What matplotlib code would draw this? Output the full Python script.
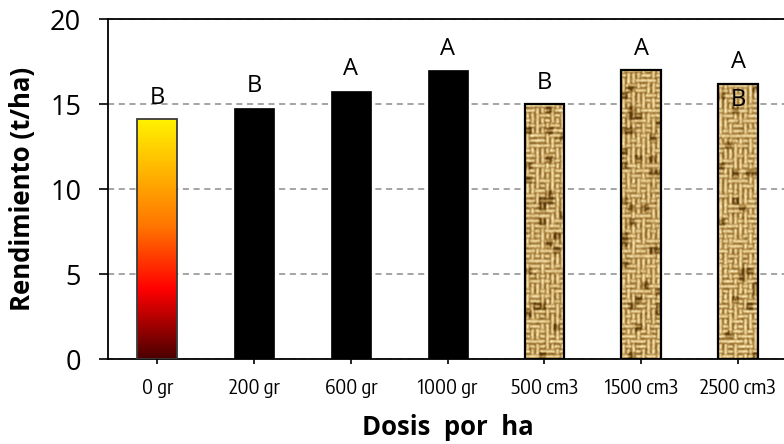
import numpy as np
import matplotlib
matplotlib.use('Agg')
import matplotlib.pyplot as plt
from matplotlib import font_manager
from matplotlib.colors import LinearSegmentedColormap

# data
dosis = ['0 gr', '200 gr', '600 gr', '1000 gr', '500 cm3', '1500 cm3', '2500 cm3']
rendimiento = [14.1, 14.8, 15.8, 17.0, 15.0, 17.0, 16.2]
letras = ['B', 'B', 'A', 'A', 'B', 'A', 'AB']
relleno = ['gradiente', 'negro', 'negro', 'negro', 'yute', 'yute', 'yute']

fuente = ['Open Sans', 'DejaVu Sans']

# narrow font for the category labels, if one is around
angosta = ['Liberation Sans', 'DejaVu Sans']
estirada = 'normal'
for f in font_manager.fontManager.ttflist:
    n = f.name.lower()
    if ('narrow' in n or 'condensed' in n) and 'sans' in n and f.weight in (400, 'normal', 'regular'):
        angosta = [f.name] + angosta
        break
else:
    for f in font_manager.fontManager.ttflist:
        if f.stretch in ('condensed', 'semi-condensed') and f.style == 'normal':
            angosta = [f.name] + angosta
            estirada = f.stretch
            break
hay_angosta = angosta[0] != 'Liberation Sans'

grad_cmap = LinearSegmentedColormap.from_list(
    'fuego', [(0.0, '#4a0000'), (0.29, '#ff0000'), (0.55, '#ff7400'), (1.0, '#fff200')])
yute_cmap = LinearSegmentedColormap.from_list(
    'yute', [(0.0, '#5a3c10'), (0.35, '#a27c3c'), (0.65, '#d8b878'), (1.0, '#fff2c4')])


def textura_yute(h, w, seed):
    # woven look: small blocks of threads running either way
    rng = np.random.default_rng(seed)
    yy, xx = np.mgrid[0:h, 0:w]
    blk = 5
    orient = rng.integers(0, 2, size=(h // blk + 1, w // blk + 1))
    o = orient[yy // blk, xx // blk]
    fase = np.where(o == 1, yy % blk, xx % blk)
    perfil = np.array([0.2, 0.65, 0.95, 0.7, 0.3])
    v = perfil[fase] + rng.normal(0, 0.13, size=(h, w))
    manchas = rng.random((h // 7 + 1, w // 7 + 1)) < 0.12
    v = v - 0.35 * manchas[yy // 7, xx // 7]
    k = np.array([0.25, 0.5, 0.25])
    v = np.apply_along_axis(lambda r: np.convolve(r, k, mode='same'), 0, v)
    v = np.apply_along_axis(lambda r: np.convolve(r, k, mode='same'), 1, v)
    return np.clip(v, 0, 1)


fig = plt.figure(figsize=(7.84, 4.44), dpi=100)
ax = fig.add_axes([0.138, 0.191, 0.866, 0.766])

x = np.arange(len(dosis))
ancho = 0.41
ax.set_xlim(-0.506, len(dosis) - 1 + 0.506)
ax.set_ylim(0, 20)

for i, (v, r) in enumerate(zip(rendimiento, relleno)):
    x0, x1 = i - ancho / 2, i + ancho / 2
    if r == 'negro':
        ax.bar(i, v, width=ancho, color='black', edgecolor='black', lw=0.5, zorder=3)
        continue
    if r == 'gradiente':
        barra = ax.bar(i, v, width=ancho, facecolor='none', edgecolor='#3a3a3a', lw=1.3, zorder=4)[0]
        img = ax.imshow(np.linspace(0, 1, 256).reshape(-1, 1), cmap=grad_cmap, origin='lower',
                        extent=(x0, x1, 0, v), aspect='auto', interpolation='bicubic', zorder=3)
    else:
        barra = ax.bar(i, v, width=ancho, facecolor='none', edgecolor='black', lw=1.6, zorder=4)[0]
        img = ax.imshow(textura_yute(340, 40, i), cmap=yute_cmap, origin='lower',
                        extent=(x0, x1, 0, 20), aspect='auto', interpolation='bilinear', zorder=3)
    img.set_clip_path(barra)

for i, (v, l) in enumerate(zip(rendimiento, letras)):
    ax.annotate(l[0], (i, v), xytext=(0, 15.5), textcoords='offset points', ha='center', va='center',
                fontsize=17, family=fuente, zorder=5)
    if len(l) > 1:
        ax.annotate(l[1], (i, v), xytext=(0, -11.5), textcoords='offset points', ha='center',
                    va='center', fontsize=17, family=fuente, zorder=5)

ax.set_yticks([0, 5, 10, 15, 20])
ax.yaxis.grid(True, ls=(0, (4, 3)), color='#8c8c8c', lw=1.1)
ax.set_axisbelow(True)
ax.set_xticks(x)
ax.set_xticklabels(dosis, family=angosta, fontstretch=estirada, fontsize=14.5 if hay_angosta else 12)
for t in ax.get_yticklabels():
    t.set_family(fuente)
    t.set_fontsize(19.5)
ax.tick_params(axis='y', direction='out', length=6.5, width=1.2, pad=13)
ax.tick_params(axis='x', direction='out', length=3.5, width=1.2, pad=10)
for s in ['left', 'bottom', 'top', 'right']:
    ax.spines[s].set_linewidth(1.3)

ax.set_ylabel('Rendimiento (t/ha)', family=fuente, fontweight='bold', fontsize=18.5)
ax.yaxis.set_label_coords(-0.107, 0.5)
ax.set_xlabel('Dosis  por  ha', family=fuente, fontweight='bold', fontsize=18.5)
ax.xaxis.set_label_coords(0.5, -0.16)

fig.savefig('out.png', dpi=100)
